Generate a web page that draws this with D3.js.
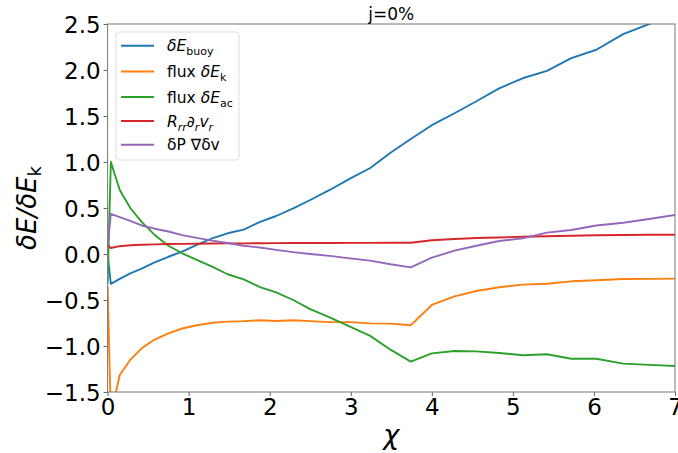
<!DOCTYPE html>
<html><head><meta charset="utf-8">
<script src="https://cdn.jsdelivr.net/npm/d3@7"></script>
<style>
body{margin:0;background:#fff;}
svg{font-family:"DejaVu Sans",sans-serif;}
</style></head>
<body><svg id="c" width="678" height="453"></svg>
<script>
const chi = [0, 0.04, 0.15, 0.28, 0.42, 0.58, 0.75, 0.92, 1.1, 1.29, 1.48, 1.68, 1.88, 2.08, 2.29, 2.5, 2.74, 2.99, 3.24, 3.49, 3.74, 4.0, 4.28, 4.55, 4.83, 5.12, 5.42, 5.72, 6.03, 6.36, 6.68, 7.0];
const buoy = [0.0, -0.325, -0.27, -0.21, -0.16, -0.09, -0.03, 0.025, 0.098, 0.17, 0.225, 0.265, 0.35, 0.413, 0.497, 0.587, 0.696, 0.82, 0.935, 1.10, 1.25, 1.40, 1.53, 1.66, 1.80, 1.91, 1.99, 2.13, 2.22, 2.39, 2.50, 2.60];
const fluxK = [-0.35, -1.75, -1.315, -1.15, -1.025, -0.93, -0.862, -0.81, -0.775, -0.748, -0.735, -0.73, -0.72, -0.728, -0.72, -0.73, -0.74, -0.74, -0.754, -0.757, -0.775, -0.554, -0.46, -0.402, -0.362, -0.333, -0.323, -0.297, -0.286, -0.272, -0.27, -0.268];
const fluxAc = [-0.32, 1.0, 0.695, 0.50, 0.35, 0.207, 0.09, 0.008, -0.065, -0.138, -0.22, -0.275, -0.36, -0.418, -0.50, -0.60, -0.69, -0.79, -0.89, -1.04, -1.17, -1.08, -1.054, -1.058, -1.076, -1.10, -1.09, -1.138, -1.138, -1.192, -1.205, -1.217];
const rrdv = [0.10, 0.065, 0.085, 0.095, 0.10, 0.105, 0.108, 0.11, 0.112, 0.114, 0.115, 0.116, 0.117, 0.118, 0.119, 0.12, 0.12, 0.121, 0.121, 0.122, 0.122, 0.15, 0.163, 0.174, 0.18, 0.188, 0.193, 0.199, 0.203, 0.207, 0.209, 0.21];
const pdv = [0.08, 0.435, 0.40, 0.36, 0.31, 0.275, 0.245, 0.205, 0.175, 0.145, 0.12, 0.09, 0.07, 0.045, 0.02, 0.0, -0.02, -0.047, -0.072, -0.112, -0.145, -0.04, 0.036, 0.09, 0.141, 0.17, 0.232, 0.261, 0.31, 0.34, 0.38, 0.424];
const xTicks = [0, 1, 2, 3, 4, 5, 6, 7];
const yTicks = [-1.5, -1.0, -0.5, 0.0, 0.5, 1.0, 1.5, 2.0, 2.5];
const colors = ["#1f77b4", "#ff7f0e", "#2ca02c", "#d62728", "#9467bd"];
const seriesList = [buoy, fluxK, fluxAc, rrdv, pdv];

const svg = d3.select("#c");
const L = 107.6, R = 675, T = 24, B = 392;
const x = d3.scaleLinear().domain([0, 7]).range([L, R]);
const y = d3.scaleLinear().domain([-1.5, 2.5]).range([B, T]);

svg.append("defs").append("clipPath").attr("id", "clip")
  .append("rect").attr("x", L).attr("y", T).attr("width", R - L).attr("height", B - T);

const line = d3.line().x(d => x(d[0])).y(d => y(d[1]));
const g = svg.append("g").attr("clip-path", "url(#clip)");
seriesList.forEach((s, i) => {
  g.append("path").datum(chi.map((c, j) => [c, s[j]]))
    .attr("d", line).attr("fill", "none").attr("stroke", colors[i])
    .attr("stroke-width", 1.9).attr("stroke-linejoin", "round");
});

const fmt = d => d.toFixed(1).replace("-", "\u2212");
const xa = svg.append("g").attr("transform", `translate(0,${B})`)
  .call(d3.axisBottom(x).tickValues(xTicks).tickFormat(d3.format("d")).tickSize(4).tickPadding(3));
const ya = svg.append("g").attr("transform", `translate(${L},0)`)
  .call(d3.axisLeft(y).tickValues(yTicks).tickFormat(fmt).tickSize(4).tickPadding(3));
[xa, ya].forEach(a => {
  a.select(".domain").remove();
  a.selectAll("line").attr("stroke", "#666");
  a.selectAll("text").attr("font-size", 23).attr("fill", "#000").attr("font-family", "DejaVu Sans");
});
ya.selectAll("text").attr("dy", "0.36em");

svg.append("rect").attr("x", L).attr("y", T).attr("width", R - L).attr("height", B - T)
  .attr("fill", "none").attr("stroke", "#777").attr("stroke-width", 1);

// title
svg.append("text").attr("x", (L + R) / 2).attr("y", 20).attr("text-anchor", "middle")
  .attr("font-size", 17).text("j=0%");

// x label
svg.append("text").attr("x", (L + R) / 2).attr("y", 444).attr("text-anchor", "middle")
  .attr("font-size", 27).attr("font-style", "italic").text("χ");

// y label
const yl = svg.append("text").attr("transform", `translate(36,${(T + B) / 2}) rotate(-90)`)
  .attr("text-anchor", "middle").attr("font-size", 26);
yl.append("tspan").attr("font-style", "italic").text("δE/δE");
yl.append("tspan").attr("font-size", 18).attr("dy", 5).text("k");

// legend
const lg = svg.append("g");
lg.append("rect").attr("x", 116).attr("y", 32).attr("width", 123).attr("height", 128)
  .attr("rx", 3).attr("fill", "#fff").attr("fill-opacity", 0.8).attr("stroke", "#ddd");
const legY = [45.7, 71.5, 97, 121, 144.7];
const fs = 15.5, sub = 11;
const labels = [
  [["δE", "i", 0], ["buoy", "", 4]],
  [["flux ", "", 0], ["δE", "i", 0], ["k", "", 4]],
  [["flux ", "", 0], ["δE", "i", 0], ["ac", "", 4]],
  [["R", "i", 0], ["rr", "i", 4], ["∂", "", -4], ["r", "i", 4], ["v", "i", -4], ["r", "i", 4]],
  [["δP ∇δv", "", 0]]
];
legY.forEach((ly, i) => {
  lg.append("line").attr("x1", 121).attr("x2", 154).attr("y1", ly).attr("y2", ly)
    .attr("stroke", colors[i]).attr("stroke-width", 1.9);
  const t = lg.append("text").attr("x", 167).attr("y", ly + 5.5).attr("font-size", fs);
  labels[i].forEach(p => {
    const ts = t.append("tspan").text(p[0]);
    if (p[1] === "i") ts.attr("font-style", "italic");
    if (p[2] !== 0) ts.attr("dy", p[2]);
    const isSub = p[2] > 0;
    if (isSub) ts.attr("font-size", sub);
  });
});
</script></body></html>
